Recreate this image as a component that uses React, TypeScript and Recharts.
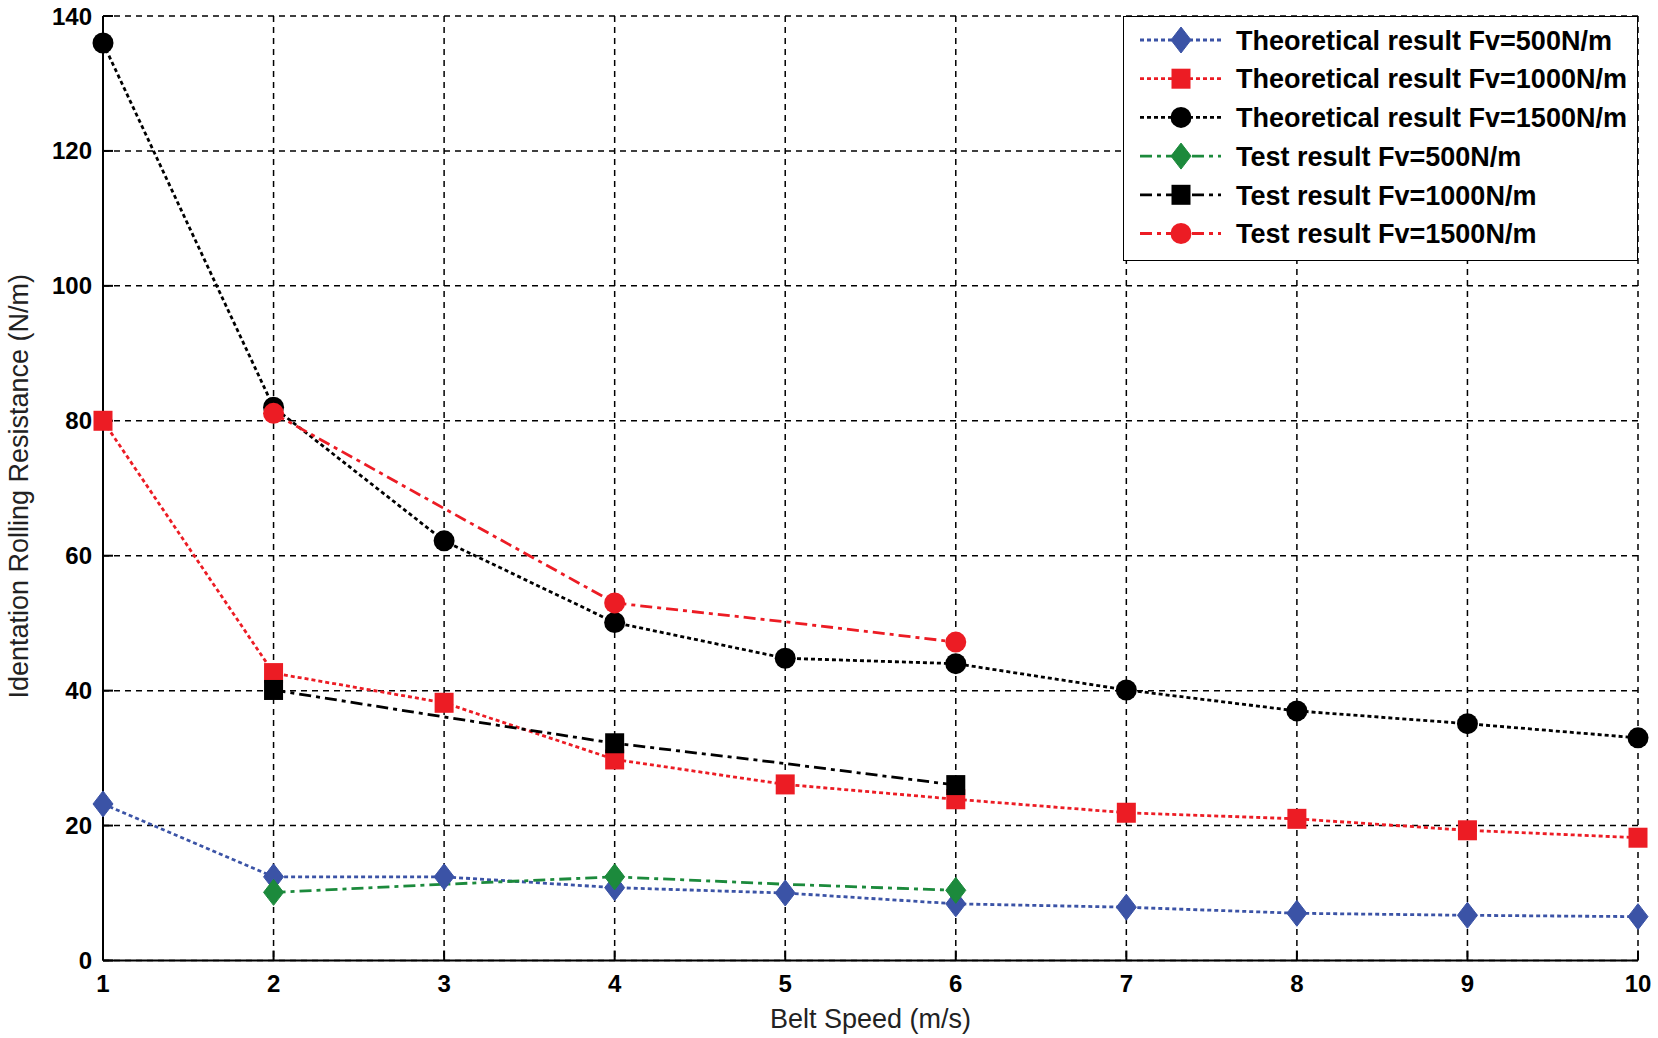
import { LineChart, Line, XAxis, YAxis, CartesianGrid, Legend, Label } from 'recharts';

// belt speed (m/s) and indentation rolling resistance (N/m)
const speeds = [1, 2, 3, 4, 5, 6, 7, 8, 9, 10];
const theory500 = [23.2, 12.4, 12.4, 10.8, 10.0, 8.4, 7.9, 7.0, 6.7, 6.5];
const theory1000 = [80, 42.6, 38.2, 29.8, 26.1, 23.9, 21.9, 21.0, 19.3, 18.2];
const theory1500 = [136, 82, 62.2, 50.1, 44.8, 44.0, 40.1, 37.0, 35.1, 33.0];
const test500 = [null, 10.1, 11.3, 12.4, 11.3, 10.4, null, null, null, null];
const test1000 = [null, 40.1, 36.1, 32.2, 29.2, 26.0, null, null, null, null];
const test1500 = [null, 81.1, 67.0, 53.0, 50.2, 47.2, null, null, null, null];
const testMarkerSpeeds = [2, 4, 6];
const yTicks = [0, 20, 40, 60, 80, 100, 120, 140];

const FONT = '"Liberation Sans", Arial, sans-serif';
const DOTTED = '4 3';
const DASHDOT = '12 5 4 5';

type Shape = 'diamond' | 'square' | 'circle';

interface SeriesDef {
  key: string;
  name: string;
  values: (number | null)[];
  color: string;
  dash: string;
  shape: Shape;
  markAt?: number[];
}

const SERIES: SeriesDef[] = [
  { key: 't500', name: 'Theoretical result Fv=500N/m', values: theory500, color: '#3b53a6', dash: DOTTED, shape: 'diamond' },
  { key: 't1000', name: 'Theoretical result Fv=1000N/m', values: theory1000, color: '#ec1c24', dash: DOTTED, shape: 'square' },
  { key: 't1500', name: 'Theoretical result Fv=1500N/m', values: theory1500, color: '#000000', dash: DOTTED, shape: 'circle' },
  { key: 'x500', name: 'Test result Fv=500N/m', values: test500, color: '#1c8a3c', dash: DASHDOT, shape: 'diamond', markAt: testMarkerSpeeds },
  { key: 'x1000', name: 'Test result Fv=1000N/m', values: test1000, color: '#000000', dash: DASHDOT, shape: 'square', markAt: testMarkerSpeeds },
  { key: 'x1500', name: 'Test result Fv=1500N/m', values: test1500, color: '#ec1c24', dash: DASHDOT, shape: 'circle', markAt: testMarkerSpeeds },
];

const rows = speeds.map((speed, i) => {
  const row: Record<string, number | null> = { speed };
  for (const s of SERIES) row[s.key] = s.values[i];
  return row;
});

function Marker({ shape, color, cx, cy }: { shape: Shape; color: string; cx: number; cy: number }) {
  if (shape === 'diamond') {
    return (
      <polygon
        points={`${cx},${cy - 13} ${cx + 10},${cy} ${cx},${cy + 13} ${cx - 10},${cy}`}
        fill={color}
        stroke={color}
      />
    );
  }
  if (shape === 'square') {
    return <rect x={cx - 9.5} y={cy - 10} width={19} height={20} fill={color} />;
  }
  return <circle cx={cx} cy={cy} r={10.5} fill={color} />;
}

const makeDot = (s: SeriesDef) => (props: any) => {
  const { cx, cy, payload, index } = props;
  if (cx == null || cy == null || payload[s.key] == null) return <g key={index} />;
  if (s.markAt && !s.markAt.includes(payload.speed)) return <g key={index} />;
  return (
    <g key={index}>
      <Marker shape={s.shape} color={s.color} cx={cx} cy={cy} />
    </g>
  );
};

function LegendBox() {
  return (
    <div
      style={{
        width: 515,
        height: 245,
        boxSizing: 'border-box',
        border: '1.5px solid #000',
        background: '#fff',
      }}
    >
      <svg width={512} height={242} style={{ display: 'block' }}>
        {SERIES.map((s, i) => {
          const y = 23 + i * 38.7;
          return (
            <g key={s.key}>
              <line x1={16} x2={97} y1={y} y2={y} stroke={s.color} strokeWidth={2.8} strokeDasharray={s.dash} />
              <Marker shape={s.shape} color={s.color} cx={57} cy={y} />
              <text
                x={112}
                y={y}
                dy="0.36em"
                fontSize={27}
                fontWeight="bold"
                fontFamily={FONT}
                fill="#000"
              >
                {s.name}
              </text>
            </g>
          );
        })}
      </svg>
    </div>
  );
}

export default function App() {
  const tickStyle = { fontSize: 24, fontWeight: 'bold', fill: '#000', fontFamily: FONT };
  return (
    <div style={{ width: 1658, height: 1038, background: '#fff', fontFamily: FONT }}>
      <style>{'body{margin:0;background:#fff}'}</style>
      <LineChart width={1658} height={1038} data={rows} margin={{ top: 16, right: 20, left: 0, bottom: 0 }}>
        <CartesianGrid stroke="#000" strokeWidth={1.5} strokeDasharray="6 5" />
        <XAxis
          dataKey="speed"
          type="number"
          domain={[1, 10]}
          ticks={speeds}
          height={77.5}
          tick={tickStyle}
          tickSize={-10}
          tickMargin={24.5}
          tickLine={{ stroke: '#000', strokeWidth: 2 }}
          axisLine={{ stroke: '#000', strokeWidth: 2 }}
        >
          <Label
            content={({ viewBox }: any) => (
              <text
                x={viewBox.x + viewBox.width / 2}
                y={viewBox.y + 67}
                textAnchor="middle"
                fontSize={27}
                fontFamily={FONT}
                fill="#222"
              >
                Belt Speed (m/s)
              </text>
            )}
          />
        </XAxis>
        <XAxis
          xAxisId="top"
          orientation="top"
          dataKey="speed"
          type="number"
          domain={[1, 10]}
          height={0}
          tick={false}
          tickLine={false}
          axisLine={{ stroke: '#000', strokeWidth: 2 }}
        />
        <YAxis
          type="number"
          domain={[0, 140]}
          ticks={yTicks}
          width={103}
          tick={tickStyle}
          tickSize={-10}
          tickMargin={21}
          tickLine={{ stroke: '#000', strokeWidth: 2 }}
          axisLine={{ stroke: '#000', strokeWidth: 2 }}
        >
          <Label
            content={({ viewBox }: any) => {
              const cx = viewBox.x + 28;
              const cy = viewBox.y + viewBox.height / 2 - 2;
              return (
                <text
                  x={cx}
                  y={cy}
                  transform={`rotate(-90 ${cx} ${cy})`}
                  textAnchor="middle"
                  fontSize={27}
                  fontFamily={FONT}
                  fill="#222"
                >
                  Identation Rolling Resistance (N/m)
                </text>
              );
            }}
          />
        </YAxis>
        <YAxis
          yAxisId="right"
          orientation="right"
          type="number"
          domain={[0, 140]}
          width={0}
          tick={false}
          tickLine={false}
          axisLine={{ stroke: '#000', strokeWidth: 2 }}
        />
        <Legend
          layout="vertical"
          align="center"
          verticalAlign="middle"
          content={() => <LegendBox />}
          wrapperStyle={{ left: 1123, top: 16, width: 515, height: 245 }}
        />
        {SERIES.map((s) => (
          <Line
            key={s.key}
            dataKey={s.key}
            name={s.name}
            stroke={s.color}
            strokeWidth={2.8}
            strokeDasharray={s.dash}
            dot={makeDot(s)}
            activeDot={false}
            isAnimationActive={false}
          />
        ))}
      </LineChart>
    </div>
  );
}
